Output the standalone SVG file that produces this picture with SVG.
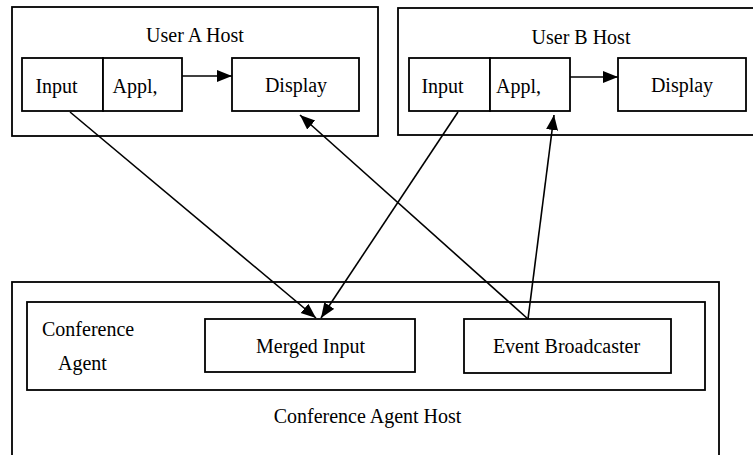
<svg xmlns="http://www.w3.org/2000/svg" width="753" height="455" viewBox="0 0 753 455">
<style>
rect{fill:#fff;stroke:#000;stroke-width:1.8}
text{font-family:"Liberation Serif","Times New Roman",serif;font-size:20px;fill:#000}
.c{text-anchor:middle}
.ln{stroke:#000;stroke-width:1.6;fill:none;marker-end:url(#ah)}
</style>
<defs>
<marker id="ah" markerUnits="userSpaceOnUse" markerWidth="16" markerHeight="13" refX="15" refY="6" orient="auto">
<path d="M0,0 L15,6 L0,12 z" fill="#000"/>
</marker>
</defs>
<g id="user-a-host">
<rect x="12" y="7" width="366" height="129"/>
<text class="c" x="195" y="42">User A Host</text>
</g>
<g id="input-a"><rect x="22" y="58" width="81" height="53"/><text class="c" x="56.5" y="93">Input</text></g>
<g id="appl-a"><rect x="103" y="58" width="79" height="53"/><text class="c" x="135" y="93">Appl,</text></g>
<g id="display-a"><rect x="232" y="58" width="127" height="53"/><text class="c" x="296" y="92">Display</text></g>
<g id="user-b-host">
<rect x="398" y="8" width="380" height="127"/>
<text class="c" x="581" y="44">User B Host</text>
</g>
<g id="input-b"><rect x="409" y="58" width="81" height="53"/><text class="c" x="442.5" y="93">Input</text></g>
<g id="appl-b"><rect x="490" y="58" width="80" height="53"/><text class="c" x="518.5" y="93">Appl,</text></g>
<g id="display-b"><rect x="618" y="58" width="128" height="53"/><text class="c" x="682" y="92">Display</text></g>
<g id="conference-agent-host">
<rect x="12" y="282" width="707" height="200"/>
<text class="c" x="367.5" y="423">Conference Agent Host</text>
</g>
<g id="conference-agent">
<rect x="27" y="302" width="678" height="88"/>
<text x="42" y="336">Conference</text>
<text x="58" y="370">Agent</text>
</g>
<g id="merged-input"><rect x="205" y="319" width="210" height="53"/><text class="c" x="310.5" y="353">Merged Input</text></g>
<g id="event-broadcaster"><rect x="464" y="319" width="207" height="54"/><text class="c" x="566.5" y="353">Event Broadcaster</text></g>
<g id="connectors">
<line class="ln" x1="182" y1="76" x2="232" y2="76"/>
<line class="ln" x1="570" y1="77" x2="618" y2="77"/>
<line class="ln" x1="70" y1="112" x2="316" y2="318"/>
<line class="ln" x1="458" y1="112" x2="321" y2="318"/>
<line class="ln" x1="528" y1="319" x2="300" y2="115"/>
<line class="ln" x1="528" y1="319" x2="554" y2="115"/>
</g>
</svg>
